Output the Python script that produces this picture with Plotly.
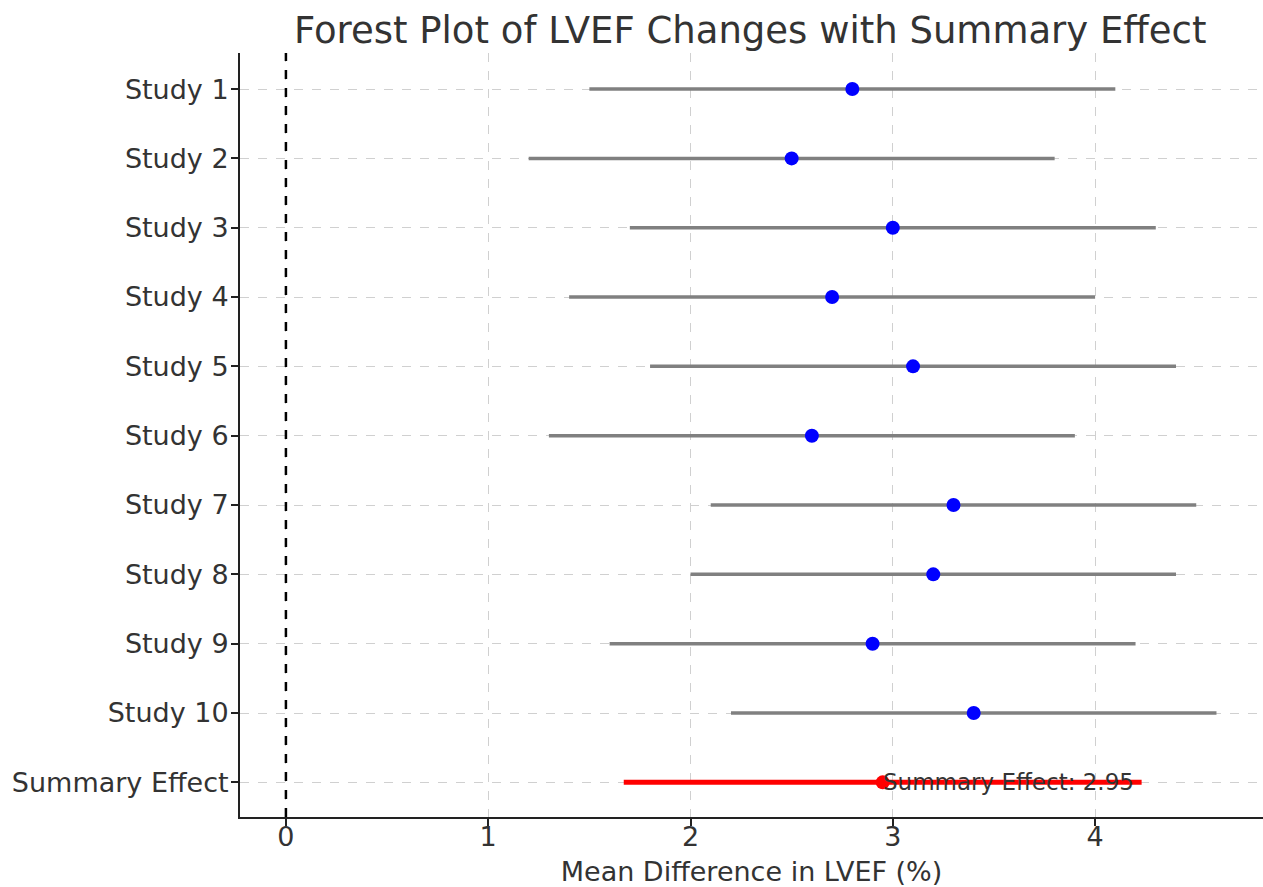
import plotly.graph_objects as go

studies = ["Study 1", "Study 2", "Study 3", "Study 4", "Study 5",
           "Study 6", "Study 7", "Study 8", "Study 9", "Study 10"]
means = [2.8, 2.5, 3.0, 2.7, 3.1, 2.6, 3.3, 3.2, 2.9, 3.4]
lower = [1.5, 1.2, 1.7, 1.4, 1.8, 1.3, 2.1, 2.0, 1.6, 2.2]
upper = [4.1, 3.8, 4.3, 4.0, 4.4, 3.9, 4.5, 4.4, 4.2, 4.6]

summary_label = "Summary Effect"
summary_mean = 2.95
summary_lower = 1.67
summary_upper = 4.23

categories = studies + [summary_label]
font_family = "DejaVu Sans, sans-serif"
text_color = "#333333"

fig = go.Figure()

# CI lines for each study
xs, ys = [], []
for s, lo, hi in zip(studies, lower, upper):
    xs += [lo, hi, None]
    ys += [s, s, None]
fig.add_trace(go.Scatter(x=xs, y=ys, mode="lines",
                         line=dict(color="#808080", width=3.5),
                         hoverinfo="skip", showlegend=False))

# Study point estimates
fig.add_trace(go.Scatter(x=means, y=studies, mode="markers",
                         marker=dict(color="blue", size=14),
                         showlegend=False))

# Summary CI
fig.add_trace(go.Scatter(x=[summary_lower, summary_upper],
                         y=[summary_label, summary_label], mode="lines",
                         line=dict(color="red", width=5),
                         showlegend=False))
fig.add_trace(go.Scatter(x=[summary_mean], y=[summary_label], mode="markers",
                         marker=dict(color="red", size=14),
                         showlegend=False))

# Reference line at zero
fig.add_shape(type="line", x0=0, x1=0, y0=0, y1=1, xref="x", yref="paper",
              line=dict(color="black", width=2.5, dash="dash"))

fig.add_annotation(x=summary_mean, y=summary_label,
                   text=f"Summary Effect: {summary_mean:.2f}",
                   showarrow=False, xanchor="left", yanchor="middle",
                   xshift=-2,
                   font=dict(family=font_family, size=23, color=text_color))

fig.update_layout(
    width=1263, height=887,
    margin=dict(l=240, r=0, t=53, b=70),
    plot_bgcolor="white", paper_bgcolor="white",
    title=dict(text="Forest Plot of LVEF Changes with Summary Effect",
               x=0.594, xanchor="center", y=0.966, yanchor="middle",
               font=dict(family=font_family, size=37, color=text_color)),
    font=dict(family=font_family, color=text_color),
)

fig.update_xaxes(
    range=[-0.227, 4.83],
    tickvals=[0, 1, 2, 3, 4],
    ticktext=["0", "1", "2", "3", "4"],
    showgrid=True, gridcolor="#d0d0d0", griddash="dash", gridwidth=1,
    zeroline=False,
    showline=True, linecolor="#222222", linewidth=2,
    ticks="outside", ticklen=7, tickwidth=1.5, tickcolor="#222222",
    ticklabelstandoff=-12,
    tickfont=dict(family=font_family, size=27, color=text_color),
    title=dict(text="Mean Difference in LVEF (%)",
               font=dict(family=font_family, size=27, color=text_color),
               standoff=12),
)

fig.update_yaxes(
    type="category",
    categoryorder="array", categoryarray=categories,
    range=[10.5, -0.52],
    showgrid=True, gridcolor="#d0d0d0", griddash="dash", gridwidth=1,
    zeroline=False,
    showline=True, linecolor="#222222", linewidth=2,
    ticks="outside", ticklen=7, tickwidth=1.5, tickcolor="#222222",
    ticklabelstandoff=-3,
    tickfont=dict(family=font_family, size=27, color=text_color),
)

fig.write_html("out.html")
